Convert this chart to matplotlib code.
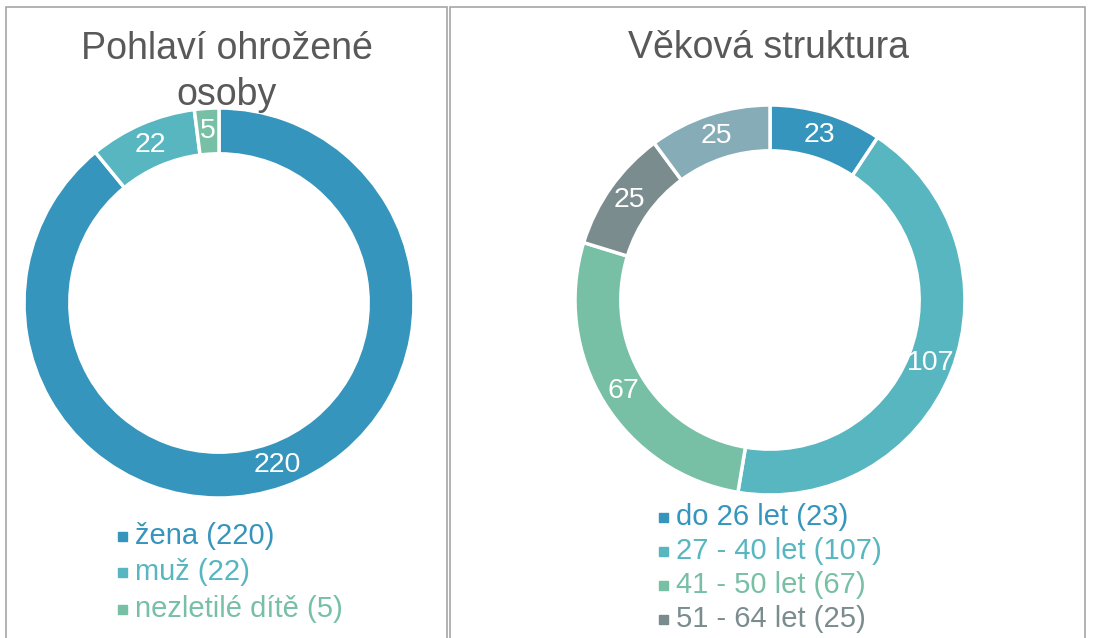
import numpy as np
import matplotlib.pyplot as plt
from matplotlib.patches import Rectangle

plt.rcParams['font.family'] = ['Liberation Sans', 'DejaVu Sans']

# data
gender_labels = ['žena', 'muž', 'nezletilé dítě']
gender_values = [220, 22, 5]
gender_colors = ['#3595BC', '#57B6C0', '#77BFA5']

age_labels = ['do 26 let', '27 - 40 let', '41 - 50 let', '51 - 64 let', '65 a více let']
age_values = [23, 107, 67, 25, 25]
age_colors = ['#3595BC', '#57B6C0', '#77BFA5', '#7A8C8E', '#86ADB7']

W, H = 1093, 638
fig = plt.figure(figsize=(W / 100, H / 100), dpi=100)


def px_box(cx, cy, r):
    # axes box in figure fraction from pixel center/radius (top-left origin)
    return [(cx - r) / W, (H - cy - r) / H, 2 * r / W, 2 * r / H]


def donut(cx, cy, values, colors):
    ax = fig.add_axes(px_box(cx, cy, 195))
    wedges, _ = ax.pie(values, colors=colors, startangle=90, counterclock=False,
                       radius=1, wedgeprops=dict(width=0.235, edgecolor='white', linewidth=2.5))
    ax.set_xlim(-1, 1)
    ax.set_ylim(-1, 1)
    ax.axis('off')
    for w, v in zip(wedges, values):
        ang = np.deg2rad((w.theta1 + w.theta2) / 2)
        ax.text(0.885 * np.cos(ang), 0.885 * np.sin(ang), str(v), color='white',
                fontsize=20.5, ha='center', va='center')
    return ax


def legend(x, y, step, labels, values, colors):
    for i, (lab, val, col) in enumerate(zip(labels, values, colors)):
        yy = y + i * step
        if yy > H:
            # entries below the visible area are cut off in the original
            continue
        fig.add_artist(Rectangle(((x - 4.5) / W, (H - yy - 4.5) / H), 9 / W, 9 / H,
                                 transform=fig.transFigure, color=col))
        fig.text((x + 13) / W, (H - yy) / H, f'{lab} ({val})', color=col,
                 fontsize=21, ha='left', va='center')


# panel borders
for x0, x1 in [(6, 447), (450, 1085)]:
    fig.add_artist(Rectangle((x0 / W, -0.05), (x1 - x0) / W, (H - 7) / H + 0.05,
                             transform=fig.transFigure, fill=False,
                             edgecolor='#A6A6A6', linewidth=1.2))

fig.text(227 / W, (H - 49) / H, 'Pohlaví ohrožené', color='#595959', fontsize=27,
         ha='center', va='center')
fig.text(227 / W, (H - 95) / H, 'osoby', color='#595959', fontsize=27,
         ha='center', va='center')
fig.text(768 / W, (H - 48) / H, 'Věková struktura', color='#595959', fontsize=27,
         ha='center', va='center')

donut(219, 303, gender_values, gender_colors)
donut(770, 300, age_values, age_colors)

legend(122, 536, 36.5, gender_labels, gender_values, gender_colors)
legend(663, 517, 34, age_labels, age_values, age_colors)

fig.savefig('out.png', dpi=100)
